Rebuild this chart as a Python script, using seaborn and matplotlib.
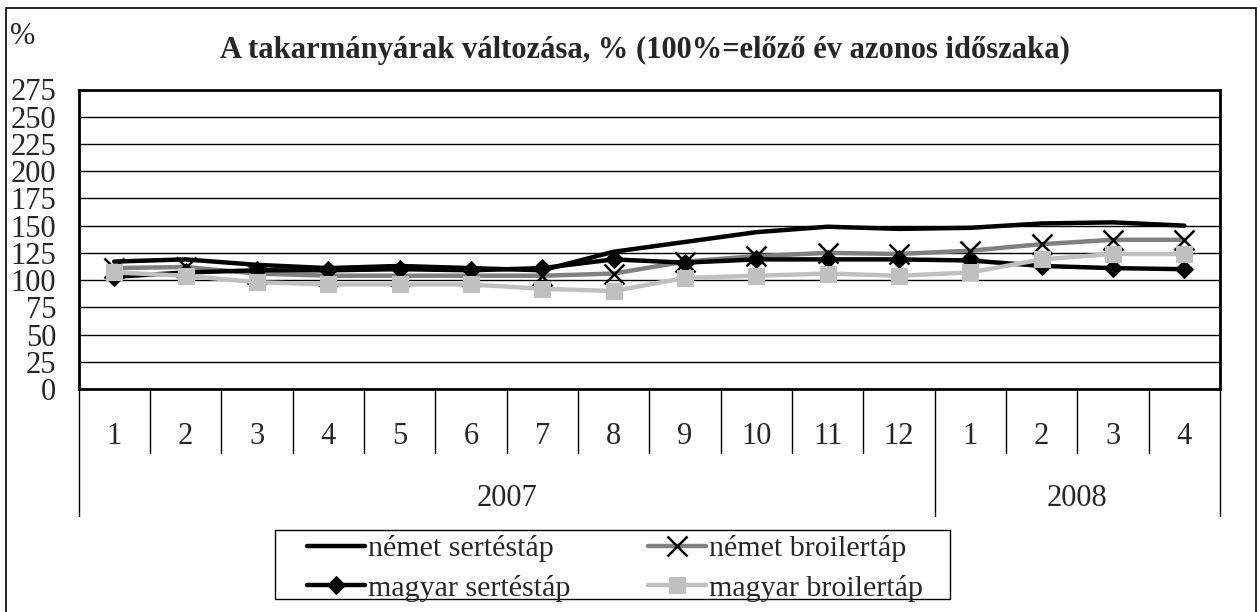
import numpy as np
import pandas as pd
import matplotlib
matplotlib.use("Agg")
import matplotlib.pyplot as plt
import matplotlib.transforms as mtransforms
from matplotlib.patches import Rectangle
import seaborn as sns

# Adatok (hónapok 2007/1 - 2008/4)
honapok = ["1", "2", "3", "4", "5", "6", "7", "8", "9", "10", "11", "12", "1", "2", "3", "4"]
evek = ["2007", "2008"]
ev_hossz = [12, 4]

nemet_sertestap = [117, 119, 114, 111, 113, 111, 109, 126, 135, 144, 149, 147, 148, 152, 153, 150]
nemet_broilertap = [111, 112, 106, 104, 104, 104, 104, 106, 117, 122, 125, 124, 127, 133, 137, 137]
magyar_sertestap = [103, 107, 109, 109, 110, 109, 111, 119, 116, 119, 119, 119, 118, 113, 111, 110]
magyar_broilertap = [107, 104, 98, 96, 96, 96, 92, 90, 102, 104, 106, 104, 107, 119, 124, 124]

cim = "A takarmányárak változása, % (100%=előző év azonos időszaka)"
yticks = list(range(0, 276, 25))

sns.set_style("white")
plt.rcParams["font.family"] = ["Liberation Serif", "DejaVu Serif"]

W, H = 1260, 612
fig = plt.figure(figsize=(W / 100, H / 100), dpi=100)
left, right, top, bottom = 78.5, 1220, 89.5, 389
ax = fig.add_axes([left / W, 1 - bottom / H, (right - left) / W, (bottom - top) / H])

x = np.arange(len(honapok))
fs = 22

# sorozatok
sns.lineplot(x=x, y=nemet_sertestap, ax=ax, color="black", lw=3.2, label="német sertéstáp")
sns.lineplot(x=x, y=nemet_broilertap, ax=ax, color="#808080", lw=3.2, marker="x", markersize=14.5,
             markeredgecolor="black", markeredgewidth=1.8, label="német broilertáp")
sns.lineplot(x=x, y=magyar_sertestap, ax=ax, color="black", lw=3.2, marker="D", markersize=9,
             markeredgecolor="black", markerfacecolor="black", label="magyar sertéstáp")
sns.lineplot(x=x, y=magyar_broilertap, ax=ax, color="#c0c0c0", lw=3.2, marker="s", markersize=11,
             markeredgecolor="#c0c0c0", markerfacecolor="#c0c0c0", label="magyar broilertáp")
if ax.get_legend() is not None:
    ax.get_legend().remove()

ax.set_xlim(-0.5, len(honapok) - 0.5)
ax.set_ylim(0, 275)
ax.set_yticks(yticks)
ax.set_yticklabels([str(v) for v in yticks], fontsize=fs)
ax.tick_params(axis="y", direction="out", length=7, width=1, color="black", pad=9)
ax.yaxis.grid(True, color="black", lw=1)
ax.set_axisbelow(True)
for s in ax.spines.values():
    s.set_color("black")
    s.set_linewidth(2)

# kategória tengely: hónapok és évek
ax.set_xticks(x)
ax.set_xticklabels(honapok, fontsize=fs)
ax.tick_params(axis="x", length=0, pad=24)
ax.set_xlabel("")
ax.set_ylabel("")

trans = mtransforms.blended_transform_factory(ax.transData, ax.transAxes)
ph = bottom - top
honap_vege = -(452.7 - bottom) / ph
ev_vege = -(515.7 - bottom) / ph
hatarok = np.cumsum([0] + ev_hossz) - 0.5
for i in range(len(honapok) + 1):
    xb = i - 0.5
    y1 = ev_vege if xb in hatarok else honap_vege
    ax.plot([xb, xb], [0, y1], transform=trans, color="black", lw=1, clip_on=False)
for ev, a, b in zip(evek, hatarok[:-1], hatarok[1:]):
    ax.text((a + b) / 2, -(499 - bottom) / ph, ev, transform=trans, ha="center", va="center", fontsize=fs)

# cím és mértékegység
fig.text(645 / W, 1 - 50 / H, cim, ha="center", va="center", fontsize=fs, fontweight="bold")
fig.text(10 / W, 1 - 36 / H, "%", ha="left", va="center", fontsize=fs)

# külső keret
fig.patches.append(Rectangle((6 / W, -0.05), (1256 - 6) / W, 1.05 - 8 / H, transform=fig.transFigure,
                             fill=False, edgecolor="black", lw=1.2))

# jelmagyarázat
fig.patches.append(Rectangle((275 / W, 1 - 599 / H), (950 - 275) / W, 69 / H, transform=fig.transFigure,
                             fill=True, facecolor="white", edgecolor="black", lw=1, zorder=0))
lines = ax.get_lines()[:4]
handles = [lines[0], lines[2], lines[1], lines[3]]
labels = ["német sertéstáp", "magyar sertéstáp", "német broilertáp", "magyar broilertáp"]
leg = fig.legend(handles, labels, ncol=2, loc="upper left", bbox_to_anchor=(307 / W, 1 - 535 / H),
                 fontsize=21.6, frameon=False, handlelength=1.93, handletextpad=0.1,
                 columnspacing=2.6, labelspacing=0.42, borderpad=0, borderaxespad=0)

fig.savefig("out.png", dpi=100)
